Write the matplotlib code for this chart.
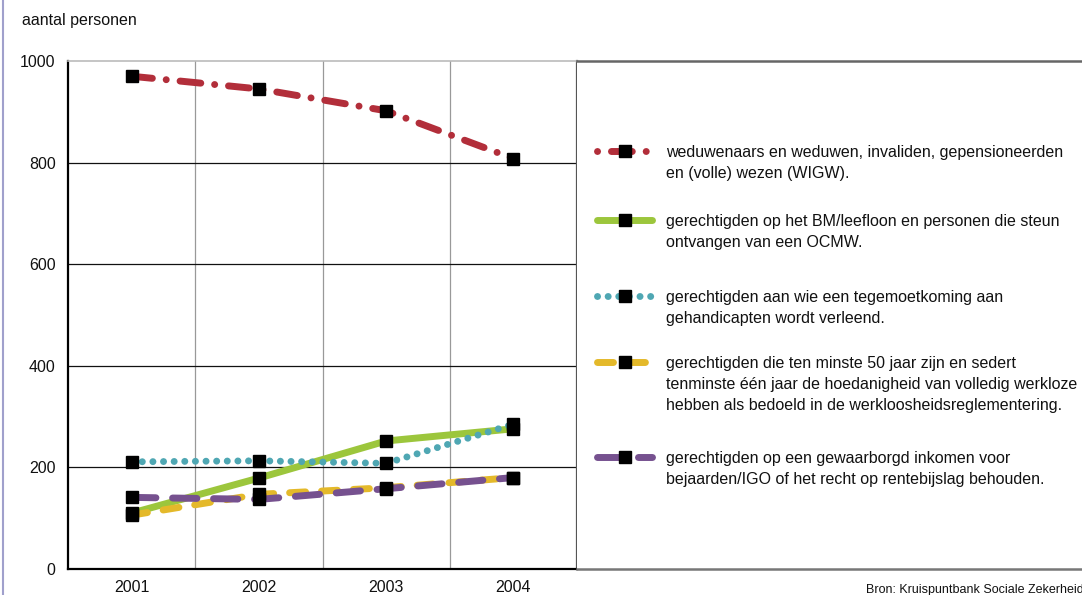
import matplotlib
matplotlib.use("Agg")
import matplotlib.pyplot as plt
from matplotlib.lines import Line2D

years = ["2001", "2002", "2003", "2004"]
wigw = [970, 945, 902, 808]
bm_leefloon = [110, 179, 252, 276]
tegemoetkoming = [211, 213, 208, 285]
werkloze50 = [106, 147, 160, 180]
igo = [141, 137, 158, 180]

yticks = [0, 200, 400, 600, 800, 1000]
ylabel = "aantal personen"
source = "Bron: Kruispuntbank Sociale Zekerheid"

labels = [
    "weduwenaars en weduwen, invaliden, gepensioneerden\nen (volle) wezen (WIGW).",
    "gerechtigden op het BM/leefloon en personen die steun\nontvangen van een OCMW.",
    "gerechtigden aan wie een tegemoetkoming aan\ngehandicapten wordt verleend.",
    "gerechtigden die ten minste 50 jaar zijn en sedert\ntenminste één jaar de hoedanigheid van volledig werkloze\nhebben als bedoeld in de werkloosheidsreglementering.",
    "gerechtigden op een gewaarborgd inkomen voor\nbejaarden/IGO of het recht op rentebijslag behouden.",
]

plt.rcParams["font.family"] = ["Liberation Sans", "DejaVu Sans"]

W, H = 1082, 595
fig = plt.figure(figsize=(W / 100, H / 100), dpi=100)

def fx(px):
    return px / W

def fy(py):
    return 1 - py / H

ax = fig.add_axes([fx(68), fy(569), fx(577) - fx(68), fy(61) - fy(569)])
x = list(range(len(years)))

red = "#b22e3a"
green = "#9cc63c"
cyan = "#4fa7b3"
yellow = "#e4b92a"
purple = "#76518f"
lw = 5.0
ms = 8.5

series = [
    (wigw, red, (0, (3.0, 2.0, 0.01, 2.0))),
    (bm_leefloon, green, "-"),
    (tegemoetkoming, cyan, (0, (0.01, 1.52))),
    (werkloze50, yellow, (0, (2.3, 2.3))),
    (igo, purple, (0, (3.5, 2.4))),
]
for vals, col, ls in series:
    ax.plot(x, vals, color=col, lw=lw, ls=ls, dash_capstyle="round",
            solid_capstyle="round", zorder=3)
for vals, col, ls in series:
    ax.plot(x, vals, ls="none", marker="s", ms=ms, mfc="black", mec="black", zorder=4)

ax.set_xlim(-0.5, 3.5)
ax.set_ylim(0, 1000)
ax.set_yticks(yticks)
ax.set_yticklabels([str(t) for t in yticks])
ax.set_xticks(x)
ax.set_xticklabels(years)
ax.tick_params(length=0, labelsize=11.5, colors="#111111")
ax.tick_params(axis="y", pad=9)
ax.tick_params(axis="x", pad=8)
for t in [0.5, 1.5, 2.5]:
    ax.axvline(t, color="#999999", lw=0.9, zorder=1)
for t in [200, 400, 600, 800]:
    ax.axhline(t, color="#111111", lw=0.9, zorder=1)
ax.spines["left"].set_color("black")
ax.spines["left"].set_linewidth(1.6)
ax.spines["bottom"].set_color("black")
ax.spines["bottom"].set_linewidth(1.6)
ax.spines["top"].set_color("#bbbbbb")
ax.spines["top"].set_linewidth(1.2)
ax.spines["right"].set_color("#555555")
ax.spines["right"].set_linewidth(1.6)

# legend panel
lax = fig.add_axes([fx(577), fy(569), 1 - fx(577), fy(61) - fy(569)])
lax.set_xlim(577, W)
lax.set_ylim(569, 61)
lax.set_xticks([])
lax.set_yticks([])
for s in ["left", "right"]:
    lax.spines[s].set_visible(False)
lax.spines["top"].set_color("#666666")
lax.spines["top"].set_linewidth(1.8)
lax.spines["bottom"].set_color("#777777")
lax.spines["bottom"].set_linewidth(1.8)

entry_y = [151, 220, 296, 362, 457]
handle_ls = [
    (5.0, (3.0, 2.0, 0.01, 2.0)),
    "-",
    (0, (0.01, 1.52)),
    (0, (2.3, 2.3)),
    (0, (3.5, 2.4)),
]
for (vals, col, _), hls, yy, lab in zip(series, handle_ls, entry_y, labels):
    lax.add_line(Line2D([597, 652], [yy, yy], color=col, lw=lw, ls=hls,
                        dash_capstyle="round", solid_capstyle="round"))
    lax.plot([625], [yy], ls="none", marker="s", ms=ms, mfc="black", mec="black")
    lax.text(666, yy - 6, lab, fontsize=11.5, va="top", ha="left", color="#111111",
             linespacing=1.5)

fig.text(fx(22), fy(20), ylabel, fontsize=11.5, va="center", ha="left", color="#111111")
fig.text(fx(866), fy(590), source, fontsize=9, va="center", ha="left", color="#111111")
fig.add_artist(Line2D([fx(2.5), fx(2.5)], [0, 1], color="#a0a0cc", lw=1.5))

fig.savefig("out.png", dpi=100)
